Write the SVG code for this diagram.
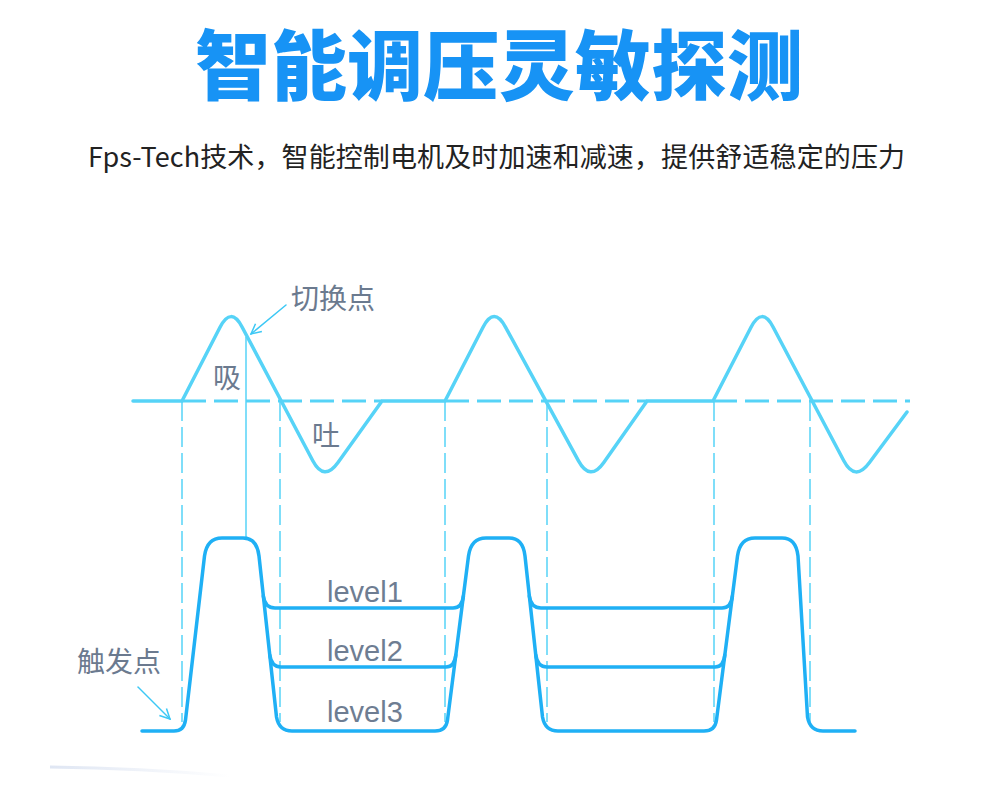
<svg xmlns="http://www.w3.org/2000/svg" width="990" height="800" viewBox="0 0 990 800">
<style>
.title{font-family:"Noto Sans CJK SC","Noto Sans",sans-serif;font-weight:900;font-size:76px;fill:#1793f5}
.sub{font-family:"Noto Sans CJK SC","Noto Sans",sans-serif;font-size:27px;fill:#222222}
.lbl{font-family:"Noto Sans CJK SC","Noto Sans",sans-serif;font-size:28px;fill:#6b7a8f}
.lvl{font-family:"Liberation Sans","Noto Sans",sans-serif;font-size:29px;fill:#6e7d92}
.wave{fill:none;stroke:#56d3f7;stroke-width:3.5;stroke-linejoin:round;stroke-linecap:round}
.base{fill:none;stroke:#56d3f7;stroke-width:3;stroke-dasharray:24 8}
.vdash{fill:none;stroke:#56d3f7;stroke-width:1.5;stroke-dasharray:20 6}
.vsolid{fill:none;stroke:#56d3f7;stroke-width:1.5}
.pulse{fill:none;stroke:#1fb0f5;stroke-width:3.5;stroke-linejoin:round;stroke-linecap:round}
.arrow{fill:none;stroke:#3cc8f5;stroke-width:1.5;stroke-linecap:round}
</style>
<defs>
<marker id="ah" viewBox="0 0 12 12" refX="11" refY="6" markerWidth="12" markerHeight="12" markerUnits="userSpaceOnUse" orient="auto">
<path d="M1,1 L11,6 L1,11" fill="none" stroke="#3cc8f5" stroke-width="1.5"/>
</marker>
<linearGradient id="fade" x1="0" y1="0" x2="1" y2="0">
<stop offset="0" stop-color="#dfe6f3"/>
<stop offset="1" stop-color="#dfe6f3" stop-opacity="0"/>
</linearGradient>
</defs>
<rect width="990" height="800" fill="#ffffff"/>

<g id="title"><text class="title" x="499" y="94" text-anchor="middle">智能调压灵敏探测</text></g>
<g id="subtitle"><text class="sub" x="88" y="167" textLength="817">Fps-Tech技术，智能控制电机及时加速和减速，提供舒适稳定的压力</text></g>

<g id="connectors">
<!-- vertical guides -->
<path class="vdash" d="M182,401 V722 M280,401 V722 M445,401 V722 M547,401 V722 M714,401 V722 M810,401 V722"/>
<path class="vsolid" d="M246,337 V537"/>
<!-- dashed baseline -->
<path class="base" d="M182,401 H382 M445,401 H647 M713,401 H910"/>
<!-- airflow wave -->
<path class="wave" d="M133,401 L182,401 L220,327.3 Q231,306 242.2,327.2 L312.8,460.8 Q324,482 338,462.5 L382,401 L445,401 L483,327.3 Q494,306 505.5,327.1 L578.5,460.9 Q590,482 603.8,462.4 L647,401 L713,401 L751,327.3 Q762,306 773.2,327.2 L843.8,460.8 Q855,482 869.3,462.7 L907,412"/>
<!-- pressure pulses -->
<path class="pulse" d="M142,731 L174,731 Q184,731 185.5,720 L204.5,556 Q207,538 222,538 L243,538 Q257,538 259,556 L276.5,717 Q279,731 292,731 L435,731 Q446,731 447.5,720 L468.5,556 Q471,538 486,538 L509,538 Q523,538 525,556 L542.5,717 Q545,731 558,731 L704,731 Q715,731 716.5,720 L737.5,556 Q740,538 755,538 L782,538 Q796,538 798,556 L807.5,717 Q810,731 823,731 L855,731"/>
<path class="pulse" d="M263.3,596 Q265,608 275,608 L453,608 Q462,608 463.4,596"/>
<path class="pulse" d="M269.8,655 Q271.5,667 281,667 L446,667 Q454.5,667 455.8,655"/>
<path class="pulse" d="M529.3,596 Q531,608 541,608 L722,608 Q731,608 732.4,596"/>
<path class="pulse" d="M535.8,655 Q537.5,667 547,667 L715,667 Q723.5,667 724.8,655"/>
<!-- label arrows -->
<path class="arrow" d="M286,305 L251,334" marker-end="url(#ah)"/>
<path class="arrow" d="M138,687 L170,719" marker-end="url(#ah)"/>
<!-- faint shadow line -->
<path d="M50,767 Q140,768 230,776" fill="none" stroke="url(#fade)" stroke-width="3"/>
</g>

<g id="label-switch"><text class="lbl" x="291" y="309">切换点</text></g>
<g id="label-inhale"><text class="lbl" x="213" y="388">吸</text></g>
<g id="label-exhale"><text class="lbl" x="312" y="446">吐</text></g>
<g id="label-trigger"><text class="lbl" x="77" y="672">触发点</text></g>
<g id="label-level1"><text class="lvl" x="327" y="602">level1</text></g>
<g id="label-level2"><text class="lvl" x="327" y="661">level2</text></g>
<g id="label-level3"><text class="lvl" x="327" y="722">level3</text></g>
</svg>
